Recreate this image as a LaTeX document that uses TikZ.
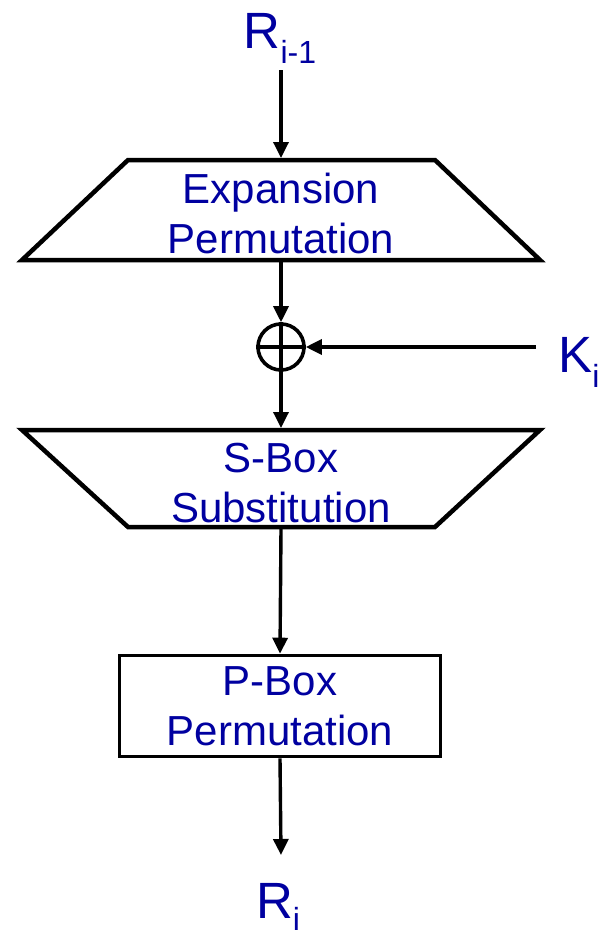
\documentclass[tikz,border=0pt]{standalone}
\usepackage{fontspec}
\setmainfont{Liberation Sans}
\usetikzlibrary{arrows.meta}
\definecolor{txtblue}{RGB}{0,0,160}
\newcommand{\mysub}[1]{\raisebox{-0.3em}{\fontsize{32}{32}\selectfont #1}}
\newcommand{\mysubb}[1]{\raisebox{-0.25em}{\fontsize{32}{32}\selectfont #1}}
\begin{document}
\begin{tikzpicture}[x=1pt,y=-1pt,
  shapeline/.style={line width=4.5pt, line join=miter},
  flow/.style={line width=3.4pt, -{Triangle[length=16pt,width=15pt]}},
  lbl/.style={text=txtblue, font=\fontsize{42}{50}\selectfont, align=center, inner sep=0pt},
  sym/.style={text=txtblue, font=\fontsize{51}{51}\selectfont, inner sep=0pt, anchor=base}]
\useasboundingbox (0,0) rectangle (606,940);
% input
\node[sym] (rin) at (280,48) {R\mysub{i-1}};
\coordinate (rinend) at (281,70);
\coordinate (exptop) at (281,158);
\draw[flow] (rinend) -- (exptop);
% expansion permutation
\draw[shapeline] (128,160) -- (435,160) -- (540,260) -- (22,260) -- cycle;
\coordinate (expbot) at (281,262);
\node[lbl] (exp) at (281,213) {Expansion\\Permutation};
% xor
\node[draw, circle, line width=3.6pt, minimum size=46pt, inner sep=0pt] (xor) at (281,347) {};
\draw[line width=3.4pt] (xor.north) -- (xor.south) (xor.west) -- (xor.east);
\draw[flow] (expbot) -- (xor.north);
\node[sym] (k) at (579,372) {K\mysub{i}};
\coordinate (kend) at (536,347);
\draw[flow] (kend) -- (xor.east);
% s-box
\draw[shapeline] (22,430) -- (540,430) -- (435,527) -- (128,527) -- cycle;
\coordinate (sboxtop) at (281,428);
\coordinate (sboxbot) at (281,529);
\node[lbl] (sbox) at (281,483) {S-Box\\Substitution};
\draw[flow] (xor.south) -- (sboxtop);
% p-box
\node[lbl, draw=black, line width=3.6pt, minimum width=321pt, minimum height=101pt] (pbox) at (280,706) {P-Box\\Permutation};
\draw[flow] (sboxbot) -- (pbox.north);
% output
\coordinate (routend) at (281,855);
\draw[flow] (pbox.south) -- (routend);
\node[sym] (rout) at (278,918) {R\mysubb{i}};
\end{tikzpicture}
\end{document}
